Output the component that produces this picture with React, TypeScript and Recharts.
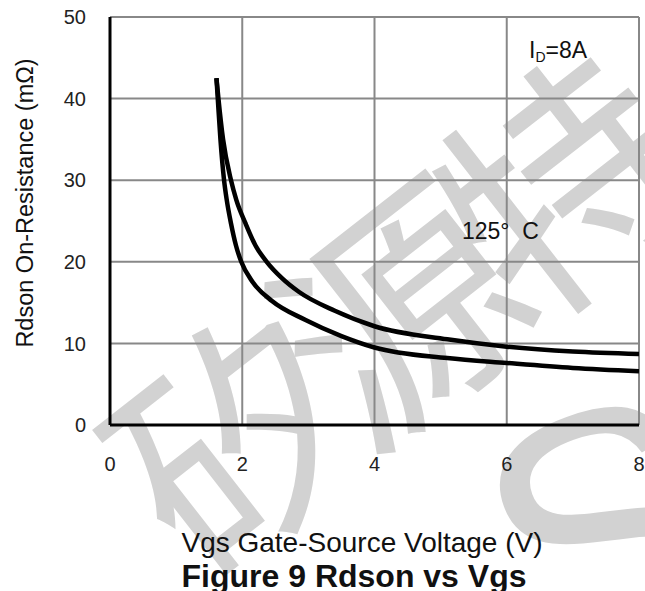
import { LineChart, Line, XAxis, YAxis, CartesianGrid, Customized } from "recharts";

// Vgs (V) / Rdson (mOhm)
const vgs25 = [1.61, 1.63, 1.67, 1.725, 1.765, 1.83, 1.905, 1.985, 2.16, 2.45, 2.95, 3.5, 4.0, 5.1, 6.0, 7.0, 8.0];
const rds25 = [42.5, 40, 35, 30, 27.6, 24.7, 22, 20, 17.5, 15.2, 12.9, 10.9, 9.5, 8.2, 7.6, 7.0, 6.6];
const vgs125 = [1.61, 1.64, 1.71, 1.83, 1.91, 2.05, 2.2, 2.37, 2.6, 2.86, 3.4, 4.0, 5.1, 6.0, 7.0, 8.0];
const rds125 = [42.5, 40, 35, 30, 27.6, 24.7, 22, 20, 18, 16.3, 14.0, 12.1, 10.5, 9.6, 9.0, 8.7];

const xTicks = [0, 2, 4, 6, 8];
const yTicks = [0, 10, 20, 30, 40, 50];

const curve25 = vgs25.map((v, i) => ({ v, r: rds25[i] }));
const curve125 = vgs125.map((v, i) => ({ v, r: rds125[i] }));

const font = "'Liberation Sans', Arial, sans-serif";
const tick = { fontSize: 20, fill: "#222", fontFamily: font };

const YTitle = () => (
  <text x={33} y={203} transform="rotate(-90 33 203)" textAnchor="middle" fontSize={23.5} fill="#111" fontFamily={font}>
    Rdson On-Resistance (mΩ)
  </text>
);

const XTitle = () => (
  <g fontFamily={font} fill="#111">
    <text x={362} y={552} textAnchor="middle" fontSize={28}>Vgs Gate-Source Voltage (V)</text>
    <text x={354} y={587} textAnchor="middle" fontSize={32} fontWeight="bold">Figure 9 Rdson vs Vgs</text>
  </g>
);

const Notes = () => (
  <g fontFamily={font} fill="#111" fontSize={23}>
    <text x={529} y={58}>
      <tspan>I</tspan>
      <tspan fontSize={14} dy={4}>D</tspan>
      <tspan dy={-4}>=8A</tspan>
    </text>
    <text x={462} y={239} xmlSpace="preserve">125°  C</text>
  </g>
);

function Watermark() {
  return (
    <svg width={645} height={591} style={{ position: "absolute", left: 0, top: 0 }}>
      <text x={380} y={312} transform="rotate(-38 380 312)" textAnchor="middle" dominantBaseline="central"
        fontSize={240} letterSpacing={-32} fill="#d2d2d2" fontFamily="'Noto Sans CJK SC', sans-serif">
        矽源特
      </text>
      <text x={605} y={530} transform="rotate(-20 605 530)" textAnchor="middle" dominantBaseline="central"
        fontSize={340} fill="#d2d2d2" fontFamily={font}>
        S
      </text>
    </svg>
  );
}

export default function App() {
  return (
    <div style={{ position: "absolute", left: 0, top: 0, width: 645, height: 591, background: "#fff", overflow: "hidden" }}>
      <Watermark />
      <div style={{ position: "absolute", left: 0, top: 0 }}>
        <LineChart width={645} height={591} margin={{ top: 17, right: 6, left: 0, bottom: 0 }}>
          <CartesianGrid stroke="#888" strokeWidth={2} />
          <XAxis type="number" dataKey="v" domain={[0, 8]} ticks={xTicks} allowDataOverflow
            height={166} tick={tick} tickSize={0} tickMargin={32}
            axisLine={{ stroke: "#000", strokeWidth: 3 }} tickLine={false} label={<XTitle />} />
          <YAxis type="number" domain={[0, 50]} ticks={yTicks} width={110}
            tick={tick} tickSize={0} tickMargin={24}
            axisLine={{ stroke: "#000", strokeWidth: 3 }} tickLine={false} label={<YTitle />} />
          <Line data={curve125} dataKey="r" type="monotone" stroke="#000" strokeWidth={4.5}
            dot={false} activeDot={false} isAnimationActive={false} />
          <Line data={curve25} dataKey="r" type="monotone" stroke="#000" strokeWidth={4.5}
            dot={false} activeDot={false} isAnimationActive={false} />
          <Customized component={<Notes />} />
        </LineChart>
      </div>
    </div>
  );
}
